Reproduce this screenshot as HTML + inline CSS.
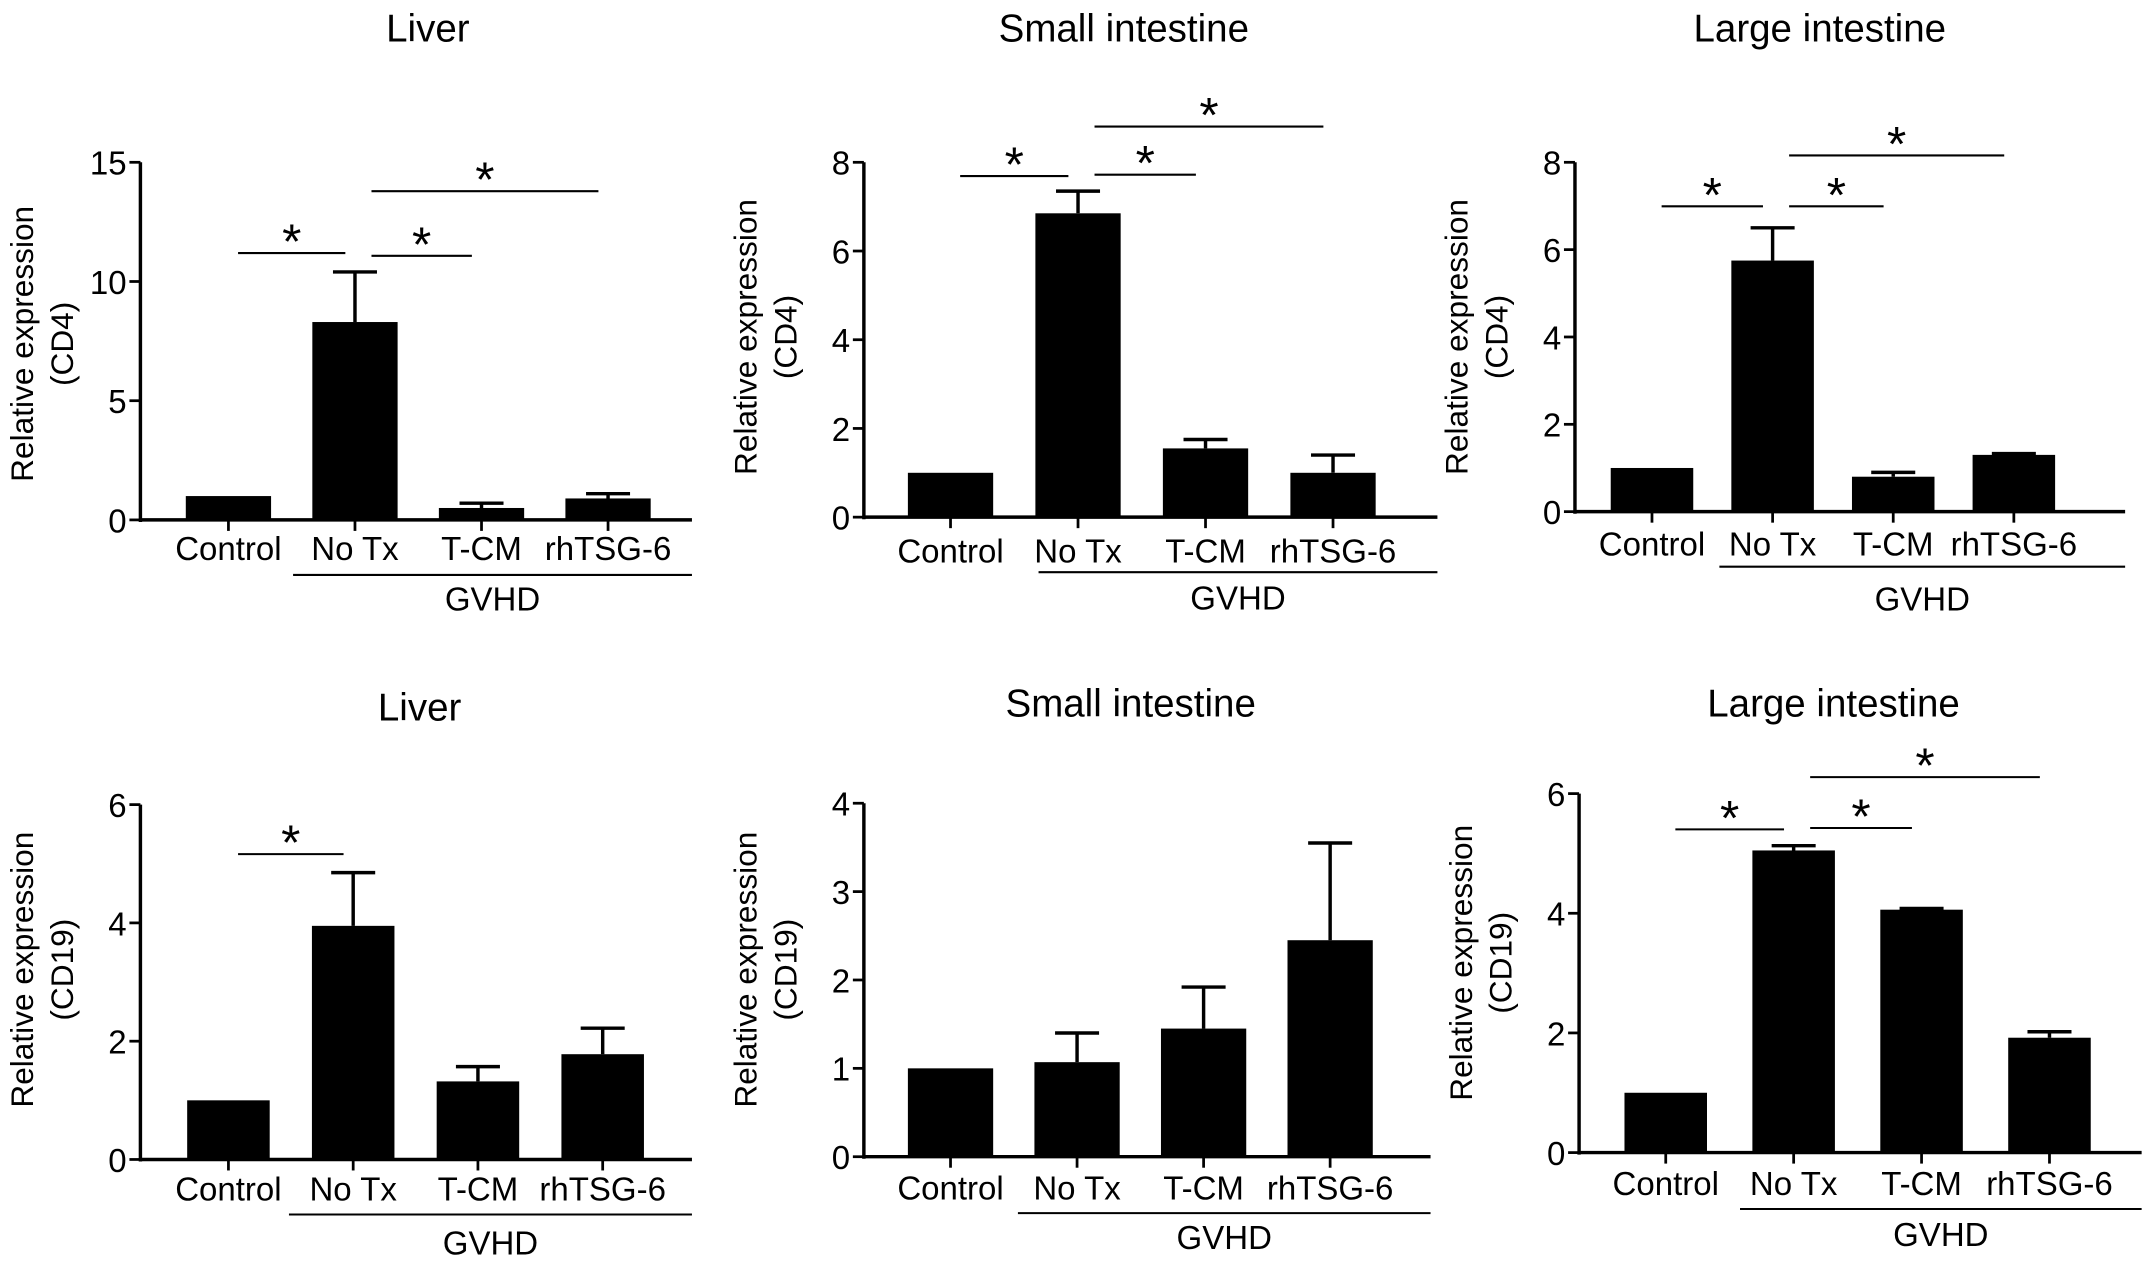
<!DOCTYPE html>
<html><head><meta charset="utf-8"><style>
html,body{margin:0;padding:0;background:#fff;}
svg{display:block;font-family:"Liberation Sans",Arial,sans-serif;}
</style></head><body>
<svg id="fig" width="2150" height="1264" viewBox="0 0 1563 919" xmlns="http://www.w3.org/2000/svg"></svg>
<script>
const categories = ["Control","No Tx","T-CM","rhTSG-6"];
const liverCD4 = [1, 8.3, 0.5, 0.9];
const liverCD4Err = [0, 2.1, 0.2, 0.2];
const smallCD4 = [1, 6.85, 1.55, 1.0];
const smallCD4Err = [0, 0.5, 0.2, 0.4];
const largeCD4 = [1, 5.75, 0.8, 1.3];
const largeCD4Err = [0, 0.75, 0.1, 0.03];
const liverCD19 = [1, 3.95, 1.32, 1.78];
const liverCD19Err = [0, 0.9, 0.25, 0.44];
const smallCD19 = [1, 1.07, 1.45, 2.45];
const smallCD19Err = [0, 0.33, 0.47, 1.1];
const largeCD19 = [1, 5.05, 4.06, 1.92];
const largeCD19Err = [0, 0.08, 0.02, 0.1];
const ticksCD4Liver = [0,5,10,15];
const ticks8 = [0,2,4,6,8];
const ticks6 = [0,2,4,6];
const ticks4 = [0,1,2,3,4];
const sigLiverCD4 = [[0,1],[1,2],[1,3]];
const sigSmallCD4 = [[0,1],[1,2],[1,3]];
const sigLargeCD4 = [[0,1],[1,2],[1,3]];
const sigLiverCD19 = [[0,1]];
const sigSmallCD19 = [];
const sigLargeCD19 = [[0,1],[1,2],[1,3]];

const NS="http://www.w3.org/2000/svg";
const svg=document.getElementById('fig');
function mk(tag,attrs,parent,text){const e=document.createElementNS(NS,tag);for(const k in attrs)e.setAttribute(k,attrs[k]);if(text!==undefined)e.textContent=text;(parent||svg).appendChild(e);return e;}

const panels=[
 {id:'liver-cd4',title:'Liver',tx:311,ty:30,ax:102,y0:378,y1:118,xe:503,c0:166,dc:92,bw:62,lab:'CD4',ly:250,vals:liverCD4,err:liverCD4Err,ticks:ticksCD4Liver,sig:sigLiverCD4,sigY:[184,186,139],lblY:407,gy:418,gx0:213,gtY:444},
 {id:'small-cd4',title:'Small intestine',tx:817,ty:30,ax:628,y0:376,y1:118,xe:1045,c0:691,dc:92.7,bw:62,lab:'CD4',ly:245,vals:smallCD4,err:smallCD4Err,ticks:ticks8,sig:sigSmallCD4,sigY:[128,127,92],lblY:409,gy:416,gx0:755,gtY:443},
 {id:'large-cd4',title:'Large intestine',tx:1323,ty:30,ax:1145,y0:372,y1:118,xe:1545,c0:1201,dc:87.7,bw:60,lab:'CD4',ly:245,vals:largeCD4,err:largeCD4Err,ticks:ticks8,sig:sigLargeCD4,sigY:[150,150,113],lblY:404,gy:412,gx0:1250,gtY:444},
 {id:'liver-cd19',title:'Liver',tx:305,ty:524,ax:102,y0:843,y1:585,xe:503,c0:166,dc:90.7,bw:60,lab:'CD19',ly:705,vals:liverCD19,err:liverCD19Err,ticks:ticks6,sig:sigLiverCD19,sigY:[621],lblY:873,gy:883,gx0:210,gtY:912},
 {id:'small-cd19',title:'Small intestine',tx:822,ty:521,ax:628,y0:841,y1:584,xe:1040,c0:691,dc:92,bw:62,lab:'CD19',ly:705,vals:smallCD19,err:smallCD19Err,ticks:ticks4,sig:sigSmallCD19,sigY:[],lblY:872,gy:882,gx0:740,gtY:908},
 {id:'large-cd19',title:'Large intestine',tx:1333,ty:521,ax:1148,y0:838,y1:577,xe:1557,c0:1211,dc:93,bw:60,lab:'CD19',ly:700,vals:largeCD19,err:largeCD19Err,ticks:ticks6,sig:sigLargeCD19,sigY:[603,602,565],lblY:869,gy:879,gx0:1265,gtY:906}
];

panels.forEach(p=>{
  const g=mk('g',{});
  
  
  const tmax=p.ticks[p.ticks.length-1];
  const Y=v=>p.y0-(v/tmax)*(p.y0-p.y1);
  const X=i=>p.c0+i*p.dc;
  const t=mk('text',{x:p.tx,y:p.ty,'font-size':28,'text-anchor':'middle'},g,p.title);
  
  
  const yl=mk('text',{transform:`translate(${p.ax-78},${p.ly}) rotate(-90)`,'font-size':23,'text-anchor':'middle'},g);
  
  
  mk('tspan',{x:0,dy:0},yl,'Relative expression');
  mk('tspan',{x:0,dy:29},yl,'('+p.lab+')');
  const ya=mk('line',{x1:p.ax,y1:p.y1,x2:p.ax,y2:p.y0+1.5,stroke:'#000','stroke-width':2.5},g);
  
  
  const xa=mk('line',{x1:p.ax-1,y1:p.y0,x2:p.xe,y2:p.y0,stroke:'#000','stroke-width':2.5},g);
  
  
  p.ticks.forEach(v=>{
    mk('line',{x1:p.ax-8,y1:Y(v),x2:p.ax,y2:Y(v),stroke:'#000','stroke-width':2},g);
    const tl=mk('text',{x:p.ax-10,y:Y(v)+9,'font-size':24,'text-anchor':'end'},g,String(v));
    
    
  });
  categories.forEach((c,i)=>{
    const x=X(i),v=p.vals[i],e=p.err[i];
    if(e>0){
      const eb=mk('path',{d:`M${x},${Y(v)} V${Y(v+e)} M${x-16},${Y(v+e)} H${x+16}`,stroke:'#000','stroke-width':2.5,fill:'none'},g);
      
      
    }
    const r=mk('rect',{x:x-p.bw/2,y:Y(v),width:p.bw,height:p.y0-Y(v),fill:'#000'},g);
    
    
    mk('line',{x1:x,y1:p.y0,x2:x,y2:p.y0+8,stroke:'#000','stroke-width':2},g);
    const cl=mk('text',{x:x,y:p.lblY,'font-size':24,'text-anchor':'middle'},g,c);
    
    
  });
  const gl=mk('line',{x1:p.gx0,y1:p.gy,x2:p.xe,y2:p.gy,stroke:'#000','stroke-width':1.5},g);
  
  
  const gt=mk('text',{x:(p.gx0+p.xe)/2,y:p.gtY,'font-size':24,'text-anchor':'middle'},g,'GVHD');
  
  
  p.sig.forEach((s,k)=>{
    const a=X(s[0])+(s[0]===0?7:12), b=X(s[1])-7;
    const y=p.sigY[k];
    const sl=mk('line',{x1:a,y1:y,x2:b,y2:y,stroke:'#000','stroke-width':1.5},g);
    
    
    const st=mk('text',{x:(a+b)/2,y:y+4,'font-size':36,'text-anchor':'middle'},g,'*');
    
    
  });
});
</script>
</body></html>
